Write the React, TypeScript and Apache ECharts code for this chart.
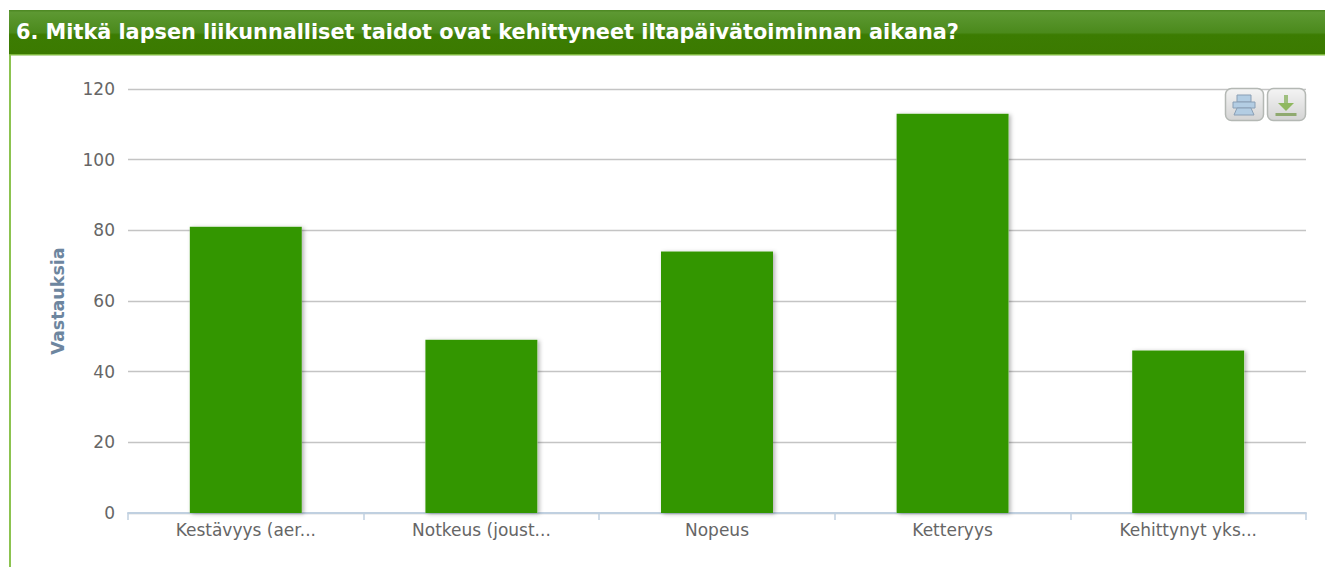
import React, { useEffect, useRef } from "react";
import * as echarts from "echarts";

const titleText = "6. Mitkä lapsen liikunnalliset taidot ovat kehittyneet iltapäivätoiminnan aikana?";
const axisName = "Vastauksia";
const categories = ["Kestävyys (aer...", "Notkeus (joust...", "Nopeus", "Ketteryys", "Kehittynyt yks..."];
const values = [81, 49, 74, 113, 46];
const font = "'DejaVu Sans', Verdana, sans-serif";

const button = (x: number) => ({
  type: "rect",
  z: 10,
  shape: { x, y: 88.5, width: 38, height: 32, r: 6 },
  style: {
    fill: new echarts.graphic.LinearGradient(0, 0, 0, 1, [
      { offset: 0, color: "#f4f4f4" },
      { offset: 1, color: "#d4d4d4" },
    ]),
    stroke: "#b4b8b4",
    lineWidth: 1.5,
  },
});

export default function App() {
  const ref = useRef<HTMLDivElement>(null);
  useEffect(() => {
    if (!ref.current) return;
    const chart = echarts.init(ref.current, undefined, { renderer: "svg" });
    chart.setOption({
      animation: false,
      backgroundColor: "#ffffff",
      title: {
        text: titleText,
        left: 16,
        top: 21,
        padding: 0,
        textStyle: { color: "#ffffff", fontFamily: font, fontWeight: "bold", fontSize: 20.8 },
        z: 20,
      },
      grid: { left: 128, right: 19, top: 89, bottom: 54 },
      xAxis: {
        type: "category",
        data: categories,
        axisLine: { lineStyle: { color: "#c0d0e0", width: 2 } },
        axisTick: { show: true, length: 7, lineStyle: { color: "#c0d0e0", width: 1.5 } },
        axisLabel: { color: "#666666", fontFamily: font, fontSize: 17, margin: 8, interval: 0 },
      },
      yAxis: {
        type: "value",
        min: 0,
        max: 120,
        interval: 20,
        name: axisName,
        nameLocation: "middle",
        nameGap: 61,
        nameTextStyle: { color: "#6d869f", fontFamily: font, fontWeight: "bold", fontSize: 17.5 },
        axisLine: { show: false },
        axisTick: { show: false },
        axisLabel: { color: "#666666", fontFamily: font, fontSize: 17, margin: 13 },
        splitLine: { lineStyle: { color: "#c4c4c4", width: 1.3 } },
      },
      series: [
        {
          type: "bar",
          data: values,
          barWidth: 112,
          barGap: "-100%",
          z: 2,
          itemStyle: {
            color: "#ffffff",
            borderColor: "#ffffff",
            borderWidth: 4,
            shadowColor: "rgba(0,0,0,0.3)",
            shadowBlur: 4,
            shadowOffsetX: 2,
            shadowOffsetY: 1,
          },
        },
        {
          type: "bar",
          data: values,
          barWidth: 112,
          barGap: "-100%",
          z: 3,
          itemStyle: { color: "#339600" },
        },
      ],
      graphic: [
        {
          type: "rect",
          z: 5,
          shape: { x: 9, y: 10, width: 1316, height: 45 },
          style: {
            fill: new echarts.graphic.LinearGradient(0, 0, 0, 1, [
              { offset: 0, color: "#5f9a35" },
              { offset: 0.5, color: "#4b8a1c" },
              { offset: 0.55, color: "#3c7c02" },
              { offset: 1, color: "#3b7a00" },
            ]),
          },
        },
        { type: "rect", z: 6, shape: { x: 9, y: 10, width: 1316, height: 1.5 }, style: { fill: "#4f8a25" } },
        { type: "rect", z: 6, shape: { x: 9, y: 54, width: 1316, height: 1.5 }, style: { fill: "#7fb83f" } },
        { type: "rect", z: 6, shape: { x: 9, y: 55, width: 2, height: 512 }, style: { fill: "#8cc350" } },
        button(1225.5),
        button(1267.5),
        { type: "rect", z: 11, shape: { x: 1237, y: 95, width: 14, height: 7 }, style: { fill: "#b3cde3", stroke: "#8a9fb5", lineWidth: 1 } },
        { type: "rect", z: 11, shape: { x: 1233, y: 102, width: 22, height: 6 }, style: { fill: "#b3cde3", stroke: "#8a9fb5", lineWidth: 1 } },
        { type: "polygon", z: 11, shape: { points: [[1237, 108], [1251, 108], [1254, 115], [1234, 115]] }, style: { fill: "#b3cde3", stroke: "#8a9fb5", lineWidth: 1 } },
        { type: "rect", z: 11, shape: { x: 1284, y: 95, width: 4, height: 8 }, style: { fill: "#9fbf7f" } },
        { type: "polygon", z: 11, shape: { points: [[1278, 103], [1294, 103], [1286, 111]] }, style: { fill: "#8fb85f" } },
        { type: "rect", z: 11, shape: { x: 1275.5, y: 113, width: 21, height: 3 }, style: { fill: "#8fa96f" } },
      ],
    });
    return () => chart.dispose();
  }, []);
  return <div ref={ref} style={{ position: "fixed", left: 0, top: 0, width: 1325, height: 567 }} />;
}
